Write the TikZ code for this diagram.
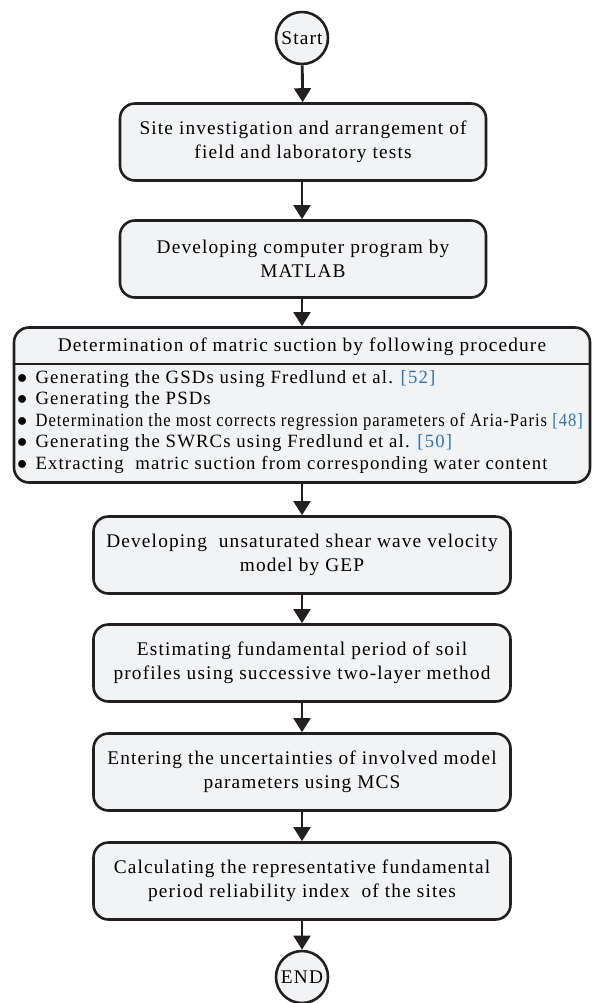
\documentclass[tikz,border=0pt]{standalone}
\usepackage{fontspec}
\setmainfont{Liberation Serif}[LetterSpace=6]
\usetikzlibrary{arrows.meta}
\definecolor{boxfill}{HTML}{F2F3F5}
\definecolor{boxline}{HTML}{231F20}
\definecolor{citeblue}{HTML}{2E75B6}
\newcommand{\citeref}[1]{\textcolor{citeblue}{[#1]}}
\newcommand{\listdot}{\makebox[0.55cm][l]{$\bullet$}}

\begin{document}
\begin{tikzpicture}[x=0.03cm,y=-0.03cm,
    stepbox/.style={draw=boxline,fill=boxfill,line width=2.2pt,rounded corners=0.45cm,
      minimum width=10.98cm,minimum height=2.31cm,align=center,
      font=\fontsize{16.5}{20.5}\selectfont},
    terminal/.style={draw=boxline,fill=boxfill,line width=2.2pt,circle,
      minimum size=1.56cm,inner sep=0pt,font=\fontsize{16.5}{18}\selectfont},
    flowarrow/.style={draw=boxline,line width=2.4pt,
      -{Triangle[length=0.42cm,width=0.5cm]}}]
      \useasboundingbox (0,0) rectangle (592,1003);
      \node[terminal] (start) at (302,38) {Start};
      \node[stepbox] (site) at (303,142) {Site investigation and arrangement of\\field and laboratory tests};
      \node[stepbox] (matlab) at (303,259) {Developing computer program by\\MATLAB};
      \node[stepbox,minimum width=17.28cm,minimum height=4.65cm] (det) at (302,405) {};
      \node[font=\fontsize{16.5}{18}\selectfont] (dethead) at (302,347) {Determination of matric suction by following procedure};
      \coordinate (sepy) at (0,364);
      \draw[draw=boxline,line width=1.6pt] (det.west |- sepy) -- (det.east |- sepy);
      \node[anchor=north west,align=left,inner sep=0pt,font=\fontsize{16}{18.4}\selectfont] (detlist) at (17,370)
        {\listdot Generating the GSDs using Fredlund et al. \citeref{52}\\
         \listdot Generating the PSDs\\
         \listdot \scalebox{0.885}[1]{Determination the most corrects regression parameters of Aria-Paris \citeref{48}}\\
         \listdot Generating the SWRCs using Fredlund et al. \citeref{50}\\
         \listdot Extracting\ \ matric suction from corresponding water content};
      \node[stepbox,minimum width=12.51cm] (gep) at (302,555) {Developing\ \ unsaturated shear wave velocity\\model by GEP};
      \node[stepbox,minimum width=12.51cm] (period) at (302,663) {Estimating fundamental period of soil\\profiles using successive two-layer method};
      \node[stepbox,minimum width=12.51cm] (mcs) at (302,772) {Entering the uncertainties of involved model\\parameters using MCS};
      \node[stepbox,minimum width=12.51cm] (rel) at (302,881) {Calculating the representative fundamental\\period reliability index\ \ of the sites};
      \node[terminal] (end) at (302,977) {END};
      \draw[flowarrow] (start) -- (site);
      \draw[flowarrow] (site.south -| start) -- (matlab.north -| start);
      \draw[flowarrow] (matlab.south -| start) -- (det.north -| start);
      \draw[flowarrow] (det) -- (gep);
      \draw[flowarrow] (gep) -- (period);
      \draw[flowarrow] (period) -- (mcs);
      \draw[flowarrow] (mcs) -- (rel);
      \draw[flowarrow] (rel) -- (end);
    \end{tikzpicture}
\end{document}
